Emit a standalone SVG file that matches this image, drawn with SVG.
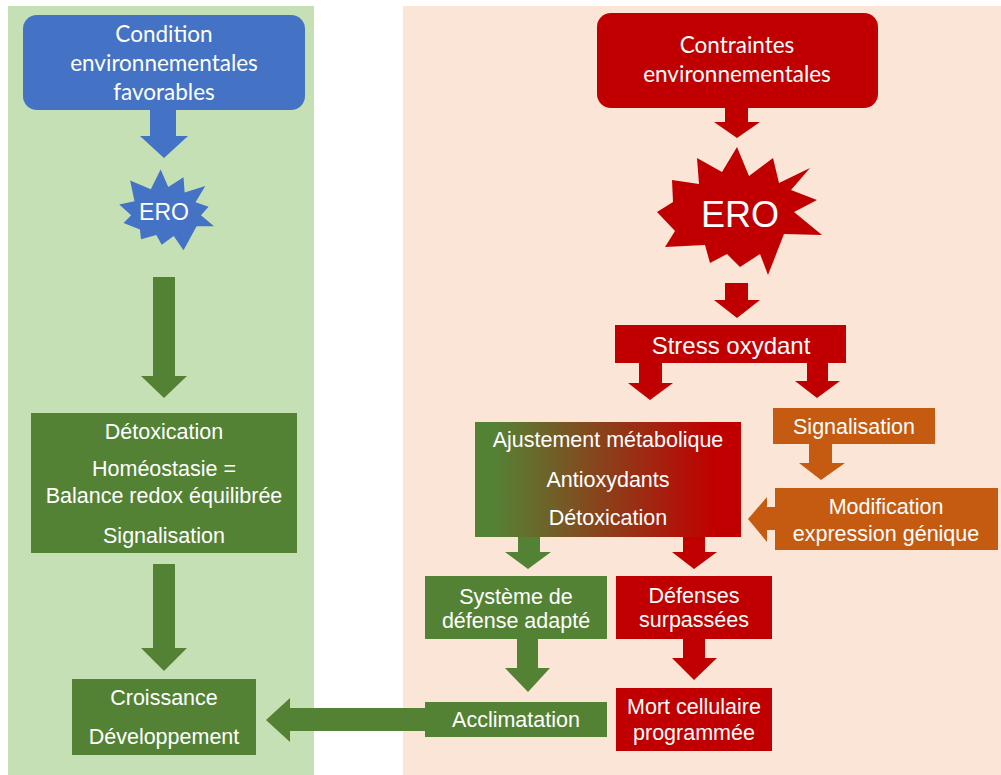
<svg xmlns="http://www.w3.org/2000/svg" width="1001" height="775" viewBox="0 0 1001 775">
<defs>
<linearGradient id="gr" x1="475" y1="0" x2="741" y2="0" gradientUnits="userSpaceOnUse">
<stop offset="0.07" stop-color="#548235"/>
<stop offset="0.9" stop-color="#C00000"/>
</linearGradient>
<style>
.t{font-family:"Liberation Sans",Arial,sans-serif;font-size:21.5px;fill:#fff;text-anchor:middle}
.c{font-family:Lato,"Liberation Sans",sans-serif;font-size:22.5px;fill:#fff;text-anchor:middle}
.g{fill:#548235}.r{fill:#C00000}.b{fill:#4472C4}.o{fill:#C55A11}
</style>
</defs>
<rect x="0" y="0" width="1001" height="775" fill="#fff"/>
<rect x="8" y="6" width="306" height="769" fill="#C5E0B4"/>
<rect x="403" y="6" width="598" height="769" fill="#FBE5D6"/>

<g id="connectors">
<polygon class="b" points="150,108 176,108 176,136 188,136 164,158 140,136 150,136"/>
<polygon class="g" points="153,277 175,277 175,376 187,376 164,398 141,376 153,376"/>
<polygon class="g" points="153,564 175,564 175,648 187,648 164,671 141,648 153,648"/>
<polygon class="g" points="425,708 290,708 290,698 266,720 290,742 290,731 425,731"/>
<polygon class="r" points="725,106 748,106 748,122 760,122 737,138 714,122 725,122"/>
<polygon class="r" points="725,283 748,283 748,300 760,300 737,318 714,300 725,300"/>
<polygon class="r" points="639,362 662,362 662,383 673,383 650,400 628,383 639,383"/>
<polygon class="r" points="807,362 828,362 828,381 840,381 817,398 795,381 807,381"/>
<polygon class="o" points="809,443 832,443 832,463 845,463 821,480 799,463 809,463"/>
<polygon class="o" points="776,507 767,507 767,497 748,519 767,542 767,530 776,530"/>
<polygon class="g" points="518,536 540,536 540,552 551,552 528,569 505,552 518,552"/>
<polygon class="r" points="683,536 705,536 705,552 717,552 694,569 672,552 683,552"/>
<polygon class="g" points="517,638 538,638 538,668 550,668 528,692 505,668 517,668"/>
<polygon class="r" points="683,638 705,638 705,658 717,658 694,680 672,658 683,658"/>
</g>

<g id="n-favorables">
<rect class="b" x="23" y="15" width="282" height="95" rx="14"/>
<text class="c" x="164" y="42">Condition</text>
<text class="c" x="164" y="71">environnementales</text>
<text class="c" x="164" y="100">favorables</text>
</g>
<g id="n-ero-blue">
<polygon class="b" transform="translate(165 211) scale(1.09) translate(-165 -211)" points="161,173 168,189 182,180 183,194 202,188 193,203 205,207 198,215 210,225 194,225 182,247 173,234 162,242 157,233 143,237 142,228 127,222 134,215 123,205 137,202 133,183 152,191"/>
<text class="t" x="164" y="220" style="font-size:23px">ERO</text>
</g>
<g id="n-detox-left">
<rect class="g" x="31" y="413" width="266" height="140"/>
<text class="t" x="164" y="439">Détoxication</text>
<text class="t" x="164" y="476">Homéostasie =</text>
<text class="t" x="164" y="503">Balance redox équilibrée</text>
<text class="t" x="164" y="543">Signalisation</text>
</g>
<g id="n-croissance">
<rect class="g" x="72" y="679" width="184" height="76"/>
<text class="t" x="164" y="705">Croissance</text>
<text class="t" x="164" y="744">Développement</text>
</g>
<g id="n-contraintes">
<rect class="r" x="597" y="13" width="281" height="95" rx="14"/>
<text class="c" x="737" y="53">Contraintes</text>
<text class="c" x="737" y="82">environnementales</text>
</g>
<g id="n-ero-red">
<polygon class="r" points="737,147 749,176 773,158 779,183 810,168 791,190 817,200 794,212 822,235 784,234 768,275 760,254 740,267 727,254 710,263 705,245 665,247 675,231 657,212 673,202 672,180 699,184 697,158 722,172"/>
<text class="t" x="740" y="227" style="font-size:36px">ERO</text>
</g>
<g id="n-stress">
<rect class="r" x="615" y="325" width="231" height="38"/>
<text class="t" x="731" y="354" style="font-size:24px">Stress oxydant</text>
</g>
<g id="n-ajustement">
<rect x="475" y="422" width="266" height="115" fill="url(#gr)"/>
<text class="t" x="608" y="447">Ajustement métabolique</text>
<text class="t" x="608" y="487">Antioxydants</text>
<text class="t" x="608" y="525">Détoxication</text>
</g>
<g id="n-signalisation">
<rect class="o" x="773" y="408" width="162" height="36"/>
<text class="t" x="854" y="434">Signalisation</text>
</g>
<g id="n-modification">
<rect class="o" x="775" y="488" width="223" height="62"/>
<text class="t" x="886" y="514">Modification</text>
<text class="t" x="886" y="541">expression génique</text>
</g>
<g id="n-systeme">
<rect class="g" x="425" y="576" width="182" height="63"/>
<text class="t" x="516" y="604">Système de</text>
<text class="t" x="516" y="628">défense adapté</text>
</g>
<g id="n-defenses">
<rect class="r" x="616" y="576" width="156" height="63"/>
<text class="t" x="694" y="603">Défenses</text>
<text class="t" x="694" y="627">surpassées</text>
</g>
<g id="n-acclimatation">
<rect class="g" x="425" y="702" width="182" height="35"/>
<text class="t" x="516" y="727">Acclimatation</text>
</g>
<g id="n-mort">
<rect class="r" x="616" y="688" width="156" height="63"/>
<text class="t" x="694" y="714">Mort cellulaire</text>
<text class="t" x="694" y="740">programmée</text>
</g>
</svg>
